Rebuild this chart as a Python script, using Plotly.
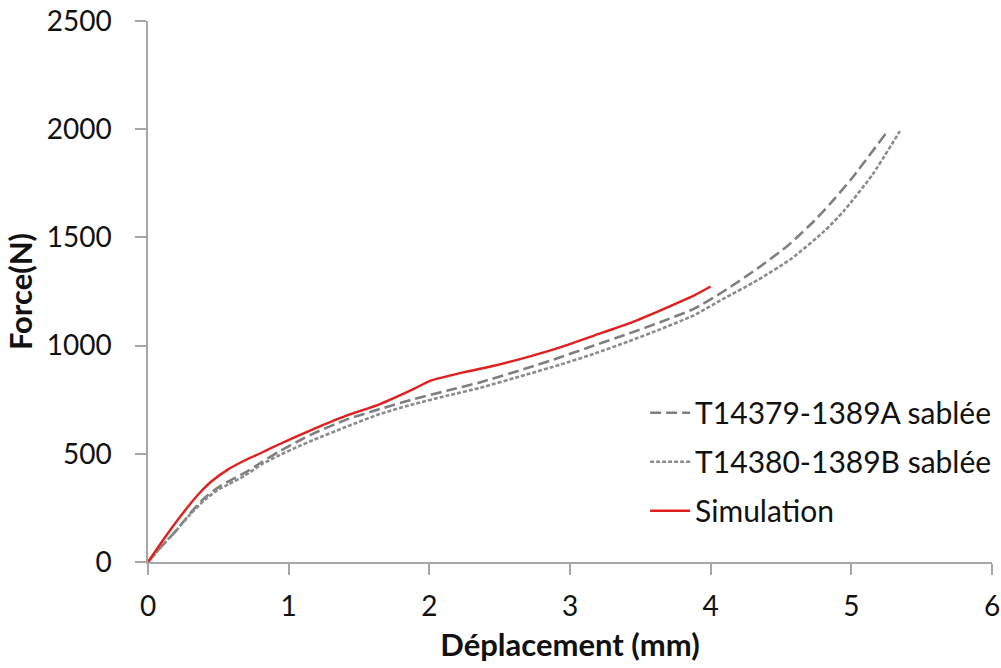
import plotly.graph_objects as go

sim_x = [0, 0.1, 0.2, 0.3, 0.37, 0.45, 0.57, 0.69, 0.81, 0.93, 1.09, 1.18, 1.41, 1.65, 1.89, 2.01, 2.24, 2.46, 2.69, 2.93, 3.17, 3.41, 3.64, 3.88, 4.0]
sim_y = [0, 95, 185, 268, 321, 372, 428, 470, 506, 543, 590, 615, 676, 730, 800, 838, 876, 907, 946, 992, 1046, 1100, 1162, 1231, 1273]

a_x = [0, 0.1, 0.2, 0.3, 0.4, 0.5, 0.57, 0.69, 0.81, 0.93, 1.09, 1.18, 1.41, 1.65, 1.89, 2.13, 2.36, 2.69, 2.93, 3.17, 3.41, 3.64, 3.88, 4.09, 4.33, 4.55, 4.74, 4.85, 5.0, 5.245]
a_y = [0, 75, 145, 225, 295, 345, 372, 413, 462, 510, 566, 595, 658, 707, 753, 792, 830, 895, 946, 1000, 1054, 1108, 1170, 1250, 1355, 1463, 1579, 1656, 1770, 1980]

b_x = [0, 0.1, 0.2, 0.3, 0.4, 0.5, 0.57, 0.69, 0.81, 0.93, 1.09, 1.18, 1.41, 1.65, 1.89, 2.13, 2.36, 2.69, 2.93, 3.17, 3.41, 3.64, 3.88, 4.09, 4.33, 4.57, 4.81, 4.95, 5.15, 5.345]
b_y = [0, 75, 145, 220, 285, 335, 358, 400, 452, 492, 540, 565, 625, 684, 730, 769, 805, 866, 912, 962, 1018, 1075, 1140, 1216, 1301, 1400, 1530, 1625, 1790, 1991]

names = ["T14379-1389A sablée", "T14380-1389B sablée", "Simulation"]
x_ticks = [0, 1, 2, 3, 4, 5, 6]
y_ticks = [0, 500, 1000, 1500, 2000, 2500]

font = "Lato, 'Open Sans', sans-serif"
axis_grey = "#A6A6A6"

fig = go.Figure()
fig.add_trace(go.Scatter(x=a_x, y=a_y, mode="lines", name=names[0], legendgroup="a",
                         line=dict(color="#7F7F7F", width=2.6, dash="11px,5px",
                                   shape="spline", smoothing=0.6)))
fig.add_trace(go.Scatter(x=b_x, y=b_y, mode="lines", name=names[1], legendgroup="b",
                         line=dict(color="#8C8C8C", width=2.6, dash="4px,2px",
                                   shape="spline", smoothing=0.6)))
fig.add_trace(go.Scatter(x=sim_x, y=sim_y, mode="lines", name=names[2], legendgroup="c",
                         line=dict(color="#E0201E", width=2.4,
                                   shape="spline", smoothing=0.6)))

fig.update_layout(
    width=1001, height=668,
    margin=dict(l=148, r=9, t=21, b=106, autoexpand=False),
    paper_bgcolor="white", plot_bgcolor="white",
    font=dict(family=font, size=28, color="#111111"),
    showlegend=True,
    legend=dict(x=0.589, y=0.324, xanchor="left", yanchor="top",
                font=dict(family=font, size=30, color="#111111"),
                traceorder="grouped", tracegroupgap=7, itemwidth=40,
                bgcolor="rgba(0,0,0,0)"),
    xaxis=dict(range=[0, 6], tickvals=x_ticks, showgrid=False, zeroline=False,
               showline=True, linecolor=axis_grey, linewidth=1.5,
               ticks="outside", ticklen=11, tickcolor=axis_grey, tickwidth=1.5,
               tickfont=dict(size=28), ticklabelstandoff=8, ticklabeloverflow="allow",
               fixedrange=True, automargin=False,
               title=dict(text="<b>Déplacement (mm)</b>", font=dict(size=31), standoff=13)),
    yaxis=dict(range=[0, 2500], tickvals=y_ticks, showgrid=False, zeroline=False,
               showline=True, linecolor=axis_grey, linewidth=1.5,
               ticks="outside", ticklen=11, tickcolor=axis_grey, tickwidth=1.5,
               tickfont=dict(size=28), ticklabelstandoff=18, ticklabeloverflow="allow",
               fixedrange=True, automargin=False,
               title=dict(text="<b>Force(N)</b>", font=dict(size=31), standoff=5)),
)

# remove the page's default 8px body margin so the figure fills the window exactly
fig.write_html("out.html",
               config={"displayModeBar": False},
               post_script="document.body.style.margin='0';document.body.style.overflow='hidden';")
